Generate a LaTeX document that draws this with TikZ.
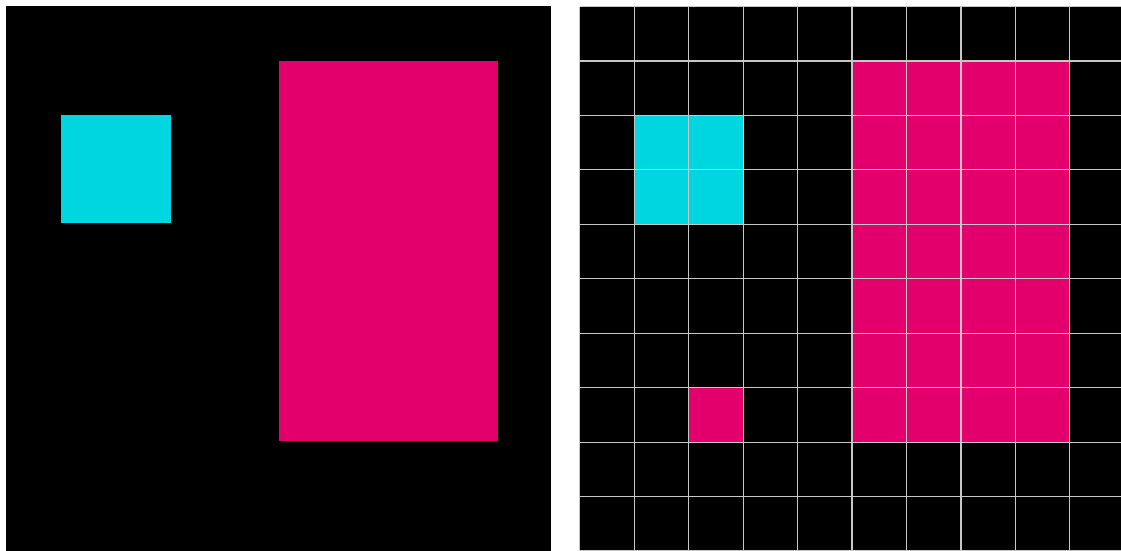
\documentclass[tikz,border=0pt]{standalone}
\definecolor{cellcyan}{RGB}{0,214,224}
\definecolor{cellmagenta}{RGB}{228,0,108}
\begin{document}
\begin{tikzpicture}[
    x=1cm, y=-1cm,
    panel/.style={fill=black},
    cyancell/.style={fill=cellcyan},
    magentacell/.style={fill=cellmagenta},
    gridline/.style={draw=white!78!black, line width=0.6pt},
]
\fill[white] (0,0) rectangle (20.59,10.12);
\clip (0,0) rectangle (20.59,10.12);
% input image
\fill[panel] (0.11,0.11) rectangle (10.12,10.12);
\fill[cyancell] (1.12,2.11) rectangle (3.14,4.10);
\fill[magentacell] (5.12,1.12) rectangle (9.15,8.10);
% pixel grid
\begin{scope}[shift={(10.65,0.12)}]
\fill[panel] (0,0) rectangle (10,10);
\foreach \c/\r in {1/2,2/2,1/3,2/3} \fill[cyancell] (\c,\r) rectangle ++(1,1);
\foreach \c in {5,...,8} \foreach \r in {1,...,7} \fill[magentacell] (\c,\r) rectangle ++(1,1);
\fill[magentacell] (2,7) rectangle ++(1,1);
\draw[gridline] (0,0) grid (10,10);
\end{scope}
\end{tikzpicture}
\end{document}
